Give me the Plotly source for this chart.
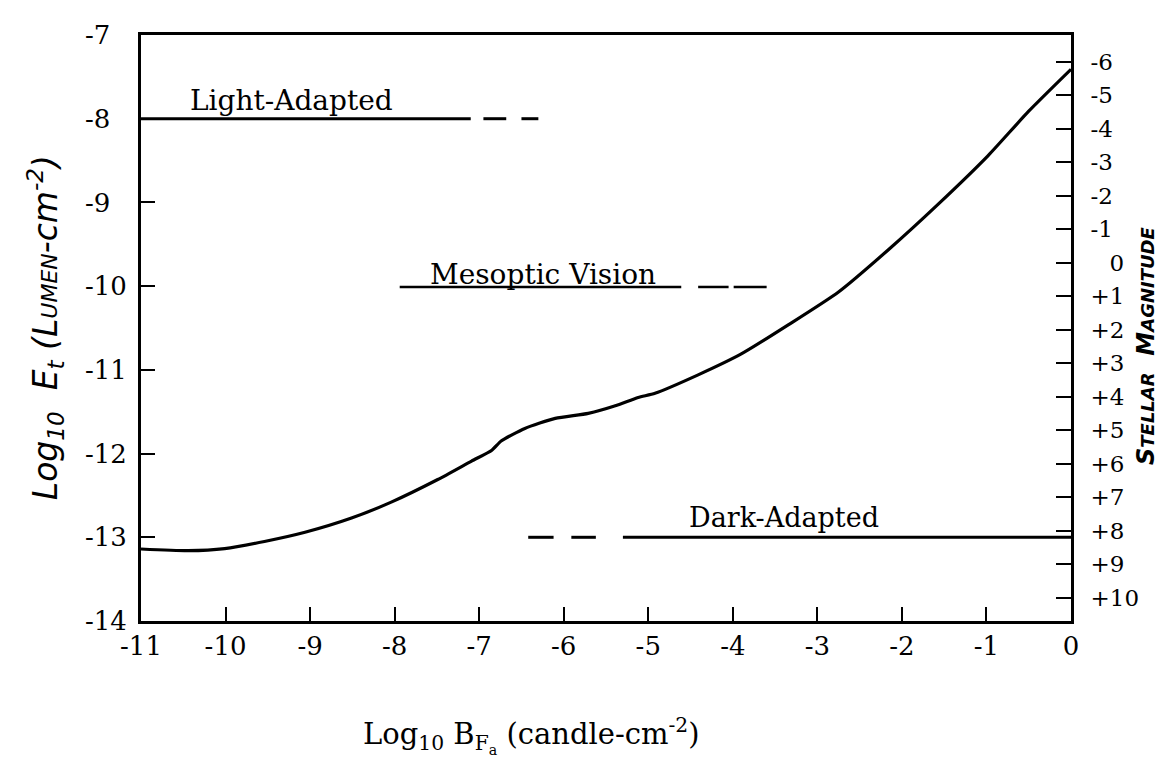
import plotly.graph_objects as go

# ---- data ----
curve_x = [-11.0, -10.44, -10.01, -9.54, -9.06, -8.51, -8.04, -7.49, -7.09, -6.85, -6.74,
           -6.46, -6.10, -5.71, -5.39, -5.12, -4.92, -4.41, -3.90, -3.34, -2.75, -2.16,
           -1.57, -0.98, -0.50, 0.0]
curve_y = [-13.14, -13.16, -13.135, -13.05, -12.94, -12.77, -12.58, -12.31, -12.09, -11.96, -11.85,
           -11.70, -11.58, -11.52, -11.43, -11.33, -11.28, -11.06, -10.81, -10.46, -10.07, -9.565,
           -9.02, -8.44, -7.91, -7.41]

light_level = -8.0
light_solid = [-11.0, -7.1]
light_dashes = [[-6.95, -6.68], [-6.5, -6.3]]

meso_level = -10.01
meso_solid = [-7.94, -4.61]
meso_dashes = [[-4.41, -4.05], [-3.99, -3.60]]

dark_level = -13.0
dark_dashes = [[-6.42, -6.12], [-5.91, -5.62]]
dark_solid = [-5.30, 0.0]

x_ticks = list(range(-11, 1))
y_ticks = list(range(-14, -6))
y_tick_text = ["-14", "-13", "-12", "-11", "-10", "-9\u2007", "-8\u2007", "-7\u2007"]
mag_ticks = list(range(-6, 11))
mag_text = ["-6", "-5", "-4", "-3", "-2", "-1", "\u2002 0", "+1", "+2", "+3", "+4", "+5",
            "+6", "+7", "+8", "+9", "+10"]
mag_offset = 9.72  # m = -2.5 * (log10 E + offset)

y_range = [-14, -7]
mag_range = [-2.5 * (y_range[0] + mag_offset), -2.5 * (y_range[1] + mag_offset)]

SERIF = "DejaVu Serif"
HAND = "DejaVu Sans"
TICK_SIZE = 26

def seg_trace(segments, level, width=3):
    xs, ys = [], []
    for a, b in segments:
        xs += [a, b, None]
        ys += [level, level, None]
    return go.Scatter(x=xs, y=ys, mode="lines", line=dict(color="black", width=width),
                      showlegend=False, hoverinfo="skip")

fig = go.Figure()
fig.add_trace(go.Scatter(x=curve_x, y=curve_y, mode="lines",
                         line=dict(color="black", width=3.2, shape="spline", smoothing=0.6),
                         showlegend=False))
fig.add_trace(seg_trace([light_solid], light_level, 3))
fig.add_trace(seg_trace(light_dashes, light_level, 3))
fig.add_trace(seg_trace([meso_solid], meso_level, 2.5))
fig.add_trace(seg_trace(meso_dashes, meso_level, 2.5))
fig.add_trace(seg_trace(dark_dashes, dark_level, 3))
fig.add_trace(seg_trace([dark_solid], dark_level, 3))
# invisible trace for the magnitude axis
fig.add_trace(go.Scatter(x=[-11, 0], y=mag_range, yaxis="y2", mode="lines",
                         line=dict(width=0, color="rgba(0,0,0,0)"), showlegend=False,
                         hoverinfo="skip"))

fig.update_layout(
    width=1164, height=765,
    margin=dict(l=133, r=101, t=13, b=152),
    paper_bgcolor="white", plot_bgcolor="white",
    showlegend=False,
    xaxis=dict(range=[-11, 0], tickvals=x_ticks, ticktext=[str(v) for v in x_ticks],
               ticks="inside", ticklen=14, tickwidth=2, tickcolor="black",
               showline=True, linewidth=3, linecolor="black", mirror=True,
               showgrid=False, zeroline=False, ticklabelstandoff=0,
               tickfont=dict(family=SERIF, size=TICK_SIZE, color="black")),
    yaxis=dict(range=y_range, tickvals=y_ticks, ticktext=y_tick_text,
               ticks="inside", ticklen=14, tickwidth=2, tickcolor="black",
               showline=True, linewidth=3, linecolor="black", mirror=True,
               showgrid=False, zeroline=False, ticklabelstandoff=6,
               tickfont=dict(family=SERIF, size=TICK_SIZE, color="black")),
    yaxis2=dict(range=mag_range, overlaying="y", side="right",
                tickvals=mag_ticks, ticktext=mag_text,
                ticks="inside", ticklen=15, tickwidth=2, tickcolor="black",
                showline=True, linewidth=3, linecolor="black",
                showgrid=False, zeroline=False, ticklabelstandoff=12,
                tickfont=dict(family=SERIF, size=23, color="black")),
)

ann_font = dict(family=SERIF, size=28, color="black")
fig.add_annotation(x=-9.22, y=light_level, text="Light-Adapted", showarrow=False,
                   xanchor="center", yanchor="bottom", yshift=0, font=ann_font)
fig.add_annotation(x=-6.24, y=meso_level, text="Mesoptic Vision", showarrow=False,
                   xanchor="center", yanchor="bottom", yshift=-6, font=ann_font)
fig.add_annotation(x=-3.40, y=dark_level, text="Dark-Adapted", showarrow=False,
                   xanchor="center", yanchor="bottom", yshift=2, font=dict(family=SERIF, size=27, color="black"))

# axis titles
fig.add_annotation(xref="paper", yref="paper", x=0.42, y=-0.195,
                   text="Log<sub>10</sub> B<sub>F<sub>a</sub></sub> (candle-cm<sup>-2</sup>)",
                   showarrow=False, xanchor="center", yanchor="middle",
                   font=dict(family=SERIF, size=29, color="black"))
fig.add_annotation(xref="paper", yref="paper", x=-0.103, y=0.5,
                   text="<i>Log<sub>10</sub>  E<sub>t</sub> (L<span style='font-size:22px'>UMEN</span>-cm<sup>-2</sup>)</i>",
                   showarrow=False, textangle=-90, xanchor="center", yanchor="middle",
                   font=dict(family=HAND, size=33, color="black"))
fig.add_annotation(xref="paper", yref="paper", x=1.08, y=0.47,
                   text="<i><b>S<span style='font-size:18px'>TELLAR</span>  M<span style='font-size:18px'>AGNITUDE</span></b></i>",
                   showarrow=False, textangle=-90, xanchor="center", yanchor="middle",
                   font=dict(family=HAND, size=24, color="black"))

fig.write_html("out.html")
